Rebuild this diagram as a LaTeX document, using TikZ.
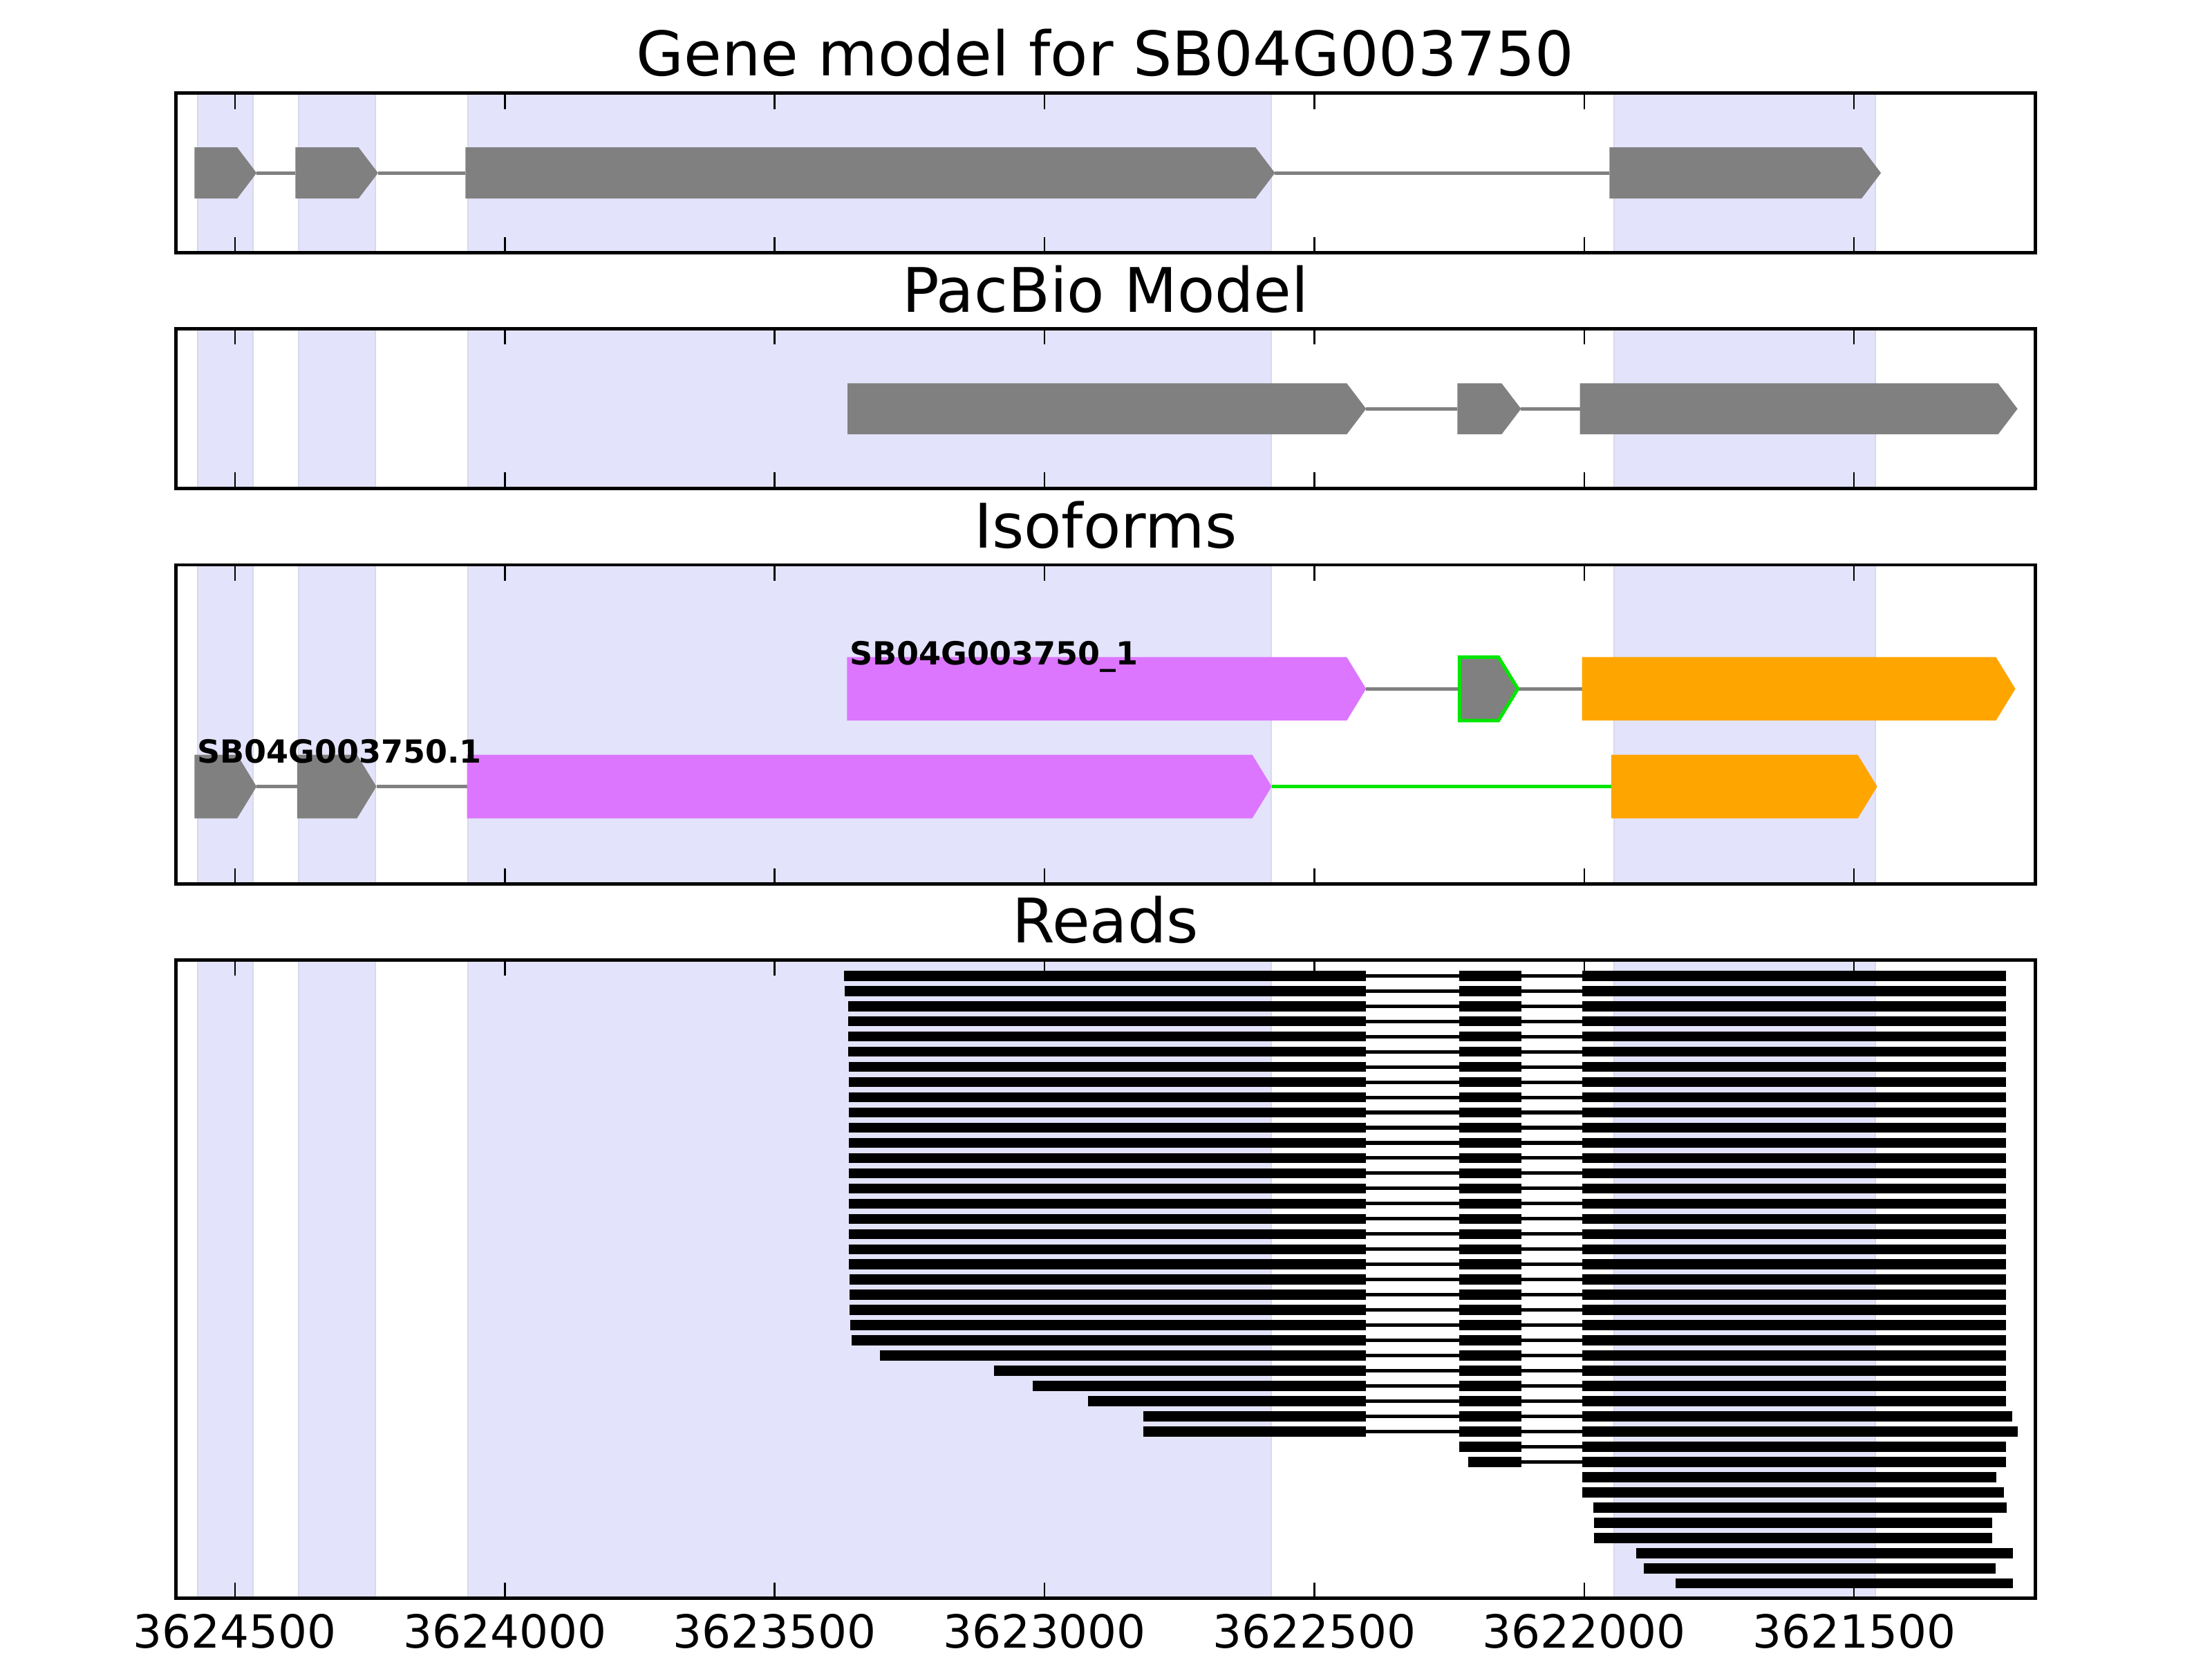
\documentclass[tikz,border=0pt]{standalone}
\usepackage{fontspec}
\setmainfont{DejaVu Sans}
\usepackage{xcolor}
\usepackage{tikz}
\usetikzlibrary{positioning, arrows.meta, calc}
\definecolor{spanblue}{HTML}{E3E3FB}
\definecolor{spanedge}{HTML}{D8D8EC}
\definecolor{exongrey}{HTML}{808080}
\definecolor{isoviolet}{HTML}{DC76FE}
\definecolor{isoorange}{HTML}{FFA500}
\definecolor{isogreen}{HTML}{00E600}

\tikzset{
  panelframe/.style={draw=black, line width=1.42pt},
  axtick/.style={draw=black, line width=0.7pt},
  spanshade/.style={fill=spanblue, draw=spanedge, line width=0.57pt},
  intron/.style={draw=exongrey, line width=1.42pt},
  readbar/.style={draw=black, line width=4.15pt},
  readintron/.style={draw=black, line width=1.45pt},
  titletext/.style={font=\fontsize{25.3}{30}\selectfont, anchor=base, inner sep=0pt},
  ticklabel/.style={font=\fontsize{18.8}{22}\selectfont, anchor=base, inner sep=0pt},
  isolabel/.style={font=\bfseries\fontsize{13.1}{15}\selectfont, anchor=base west, inner sep=0pt}
}

% exon arrow: options, centre y, half height, start, end
\newcommand{\exonbox}[5]{%
  \path[#1] ({#4},{#2-#3}) -- ({#5-36},{#2-#3}) -- ({#5},{#2})
    -- ({#5-36},{#2+#3}) -- ({#4},{#2+#3}) -- cycle;}

\begin{document}
\begin{tikzpicture}[x=0.007807cm, y=-0.01cm]
  \useasboundingbox[fill=white] (64.5,0) rectangle (4163.4,2400);

  % shaded exon spans of the gene model
  \foreach \top/\bot in {135/366, 476/707, 818/1280, 1390/2314}{
    \foreach \from/\to in {431/533, 618/760, 932/2420, 3055/3540}{
      \path[spanshade] (\from,\top) rectangle (\to,\bot);
    }
  }

  % gene model
  \draw[intron] (540,250.5) -- (612,250.5) (765,250.5) -- (927,250.5) (2427,250.5) -- (3047,250.5);
  \exonbox{fill=exongrey}{250.5}{37}{425}{540}
  \exonbox{fill=exongrey}{250.5}{37}{612}{765}
  \exonbox{fill=exongrey}{250.5}{37}{927}{2427}
  \exonbox{fill=exongrey}{250.5}{37}{3047}{3550}

  % pacbio model
  \draw[intron] (2596,592) -- (2765,592) (2883,592) -- (2992,592);
  \exonbox{fill=exongrey}{592}{37}{1635}{2596}
  \exonbox{fill=exongrey}{592}{37}{2765}{2883}
  \exonbox{fill=exongrey}{592}{37}{2992}{3803}

  % isoforms
  \draw[intron] (2596,997.5) -- (2769,997.5) (2877,997.5) -- (2996,997.5);
  \exonbox{fill=isoviolet}{997.5}{46}{1634}{2596}
  \exonbox{fill=exongrey, draw=isogreen, line width=1.42pt}{997.5}{46}{2769}{2877}
  \exonbox{fill=isoorange}{997.5}{46}{2996}{3799}
  \draw[intron] (540,1139) -- (615,1139) (762,1139) -- (930,1139);
  \draw[intron, draw=isogreen] (2421,1139) -- (3050,1139);
  \exonbox{fill=exongrey}{1139}{46}{425}{540}
  \exonbox{fill=exongrey}{1139}{46}{615}{762}
  \exonbox{fill=isoviolet}{1139}{46}{930}{2421}
  \exonbox{fill=isoorange}{1139}{46}{3050}{3543}
  \node[isolabel] (iso-one) at (1638,963) {SB04G003750\_1};
  \node[isolabel] (iso-two) at (429,1105) {SB04G003750.1};

  % reads
  \foreach \r/\s/\e in {1/1629/3782, 2/1630/3782, 3/1636/3782, 4/1636/3782, 5/1636/3782,
      6/1636/3782, 7/1637/3782, 8/1637/3782, 9/1637/3782, 10/1637/3782, 11/1637/3782,
      12/1637/3782, 13/1637/3782, 14/1637/3782, 15/1637/3782, 16/1637/3782, 17/1637/3782,
      18/1637/3782, 19/1637/3782, 20/1637/3782, 21/1639/3782, 22/1639/3782, 23/1639/3782,
      24/1640/3782, 25/1643/3782, 26/1695/3782, 27/1906/3782, 28/1978/3782, 29/2081/3782,
      30/2183/3793, 31/2183/3804}{
    \draw[readintron] (2595,{1391+22*\r}) -- (2996,{1391+22*\r});
    \draw[readbar] (\s,{1391+22*\r}) -- (2595,{1391+22*\r});
    \draw[readbar] (2768,{1391+22*\r}) -- (2884,{1391+22*\r});
    \draw[readbar] (2996,{1391+22*\r}) -- (\e,{1391+22*\r});
  }
  \foreach \r/\s/\e in {32/2768/3782, 33/2785/3782}{
    \draw[readintron] (2884,{1391+22*\r}) -- (2996,{1391+22*\r});
    \draw[readbar] (\s,{1391+22*\r}) -- (2884,{1391+22*\r});
    \draw[readbar] (2996,{1391+22*\r}) -- (\e,{1391+22*\r});
  }
  \foreach \r/\s/\e in {34/2996/3764, 35/2996/3778, 36/3017/3783, 37/3018/3756,
      38/3018/3756, 39/3096/3795, 40/3111/3762, 41/3169/3795}{
    \draw[readbar] (\s,{1391+22*\r}) -- (\e,{1391+22*\r});
  }

  % frames and ticks
  \foreach \top/\bot in {135/366, 476/707, 818/1280, 1390/2314}{
    \foreach \u in {500,1000,...,3500}{
      \draw[axtick] (\u,\top) -- ++(0,22.7);
      \draw[axtick] (\u,\bot) -- ++(0,-22.7);
    }
    \draw[panelframe] (391.1,\top) rectangle (3835.5,\bot);
  }
  \foreach \u/\lab in {500/3624500, 1000/3624000, 1500/3623500, 2000/3623000,
      2500/3622500, 3000/3622000, 3500/3621500}{
    \node[ticklabel] (tick-\u) at (\u,2386) {\lab};
  }

  % titles
  \node[titletext] (title-gene) at (2113,110) {Gene model for SB04G003750};
  \node[titletext] (title-pacbio) at (2113,452) {PacBio Model};
  \node[titletext] (title-iso) at (2113,793) {Isoforms};
  \node[titletext] (title-reads) at (2113,1365) {Reads};
\end{tikzpicture}
\end{document}
